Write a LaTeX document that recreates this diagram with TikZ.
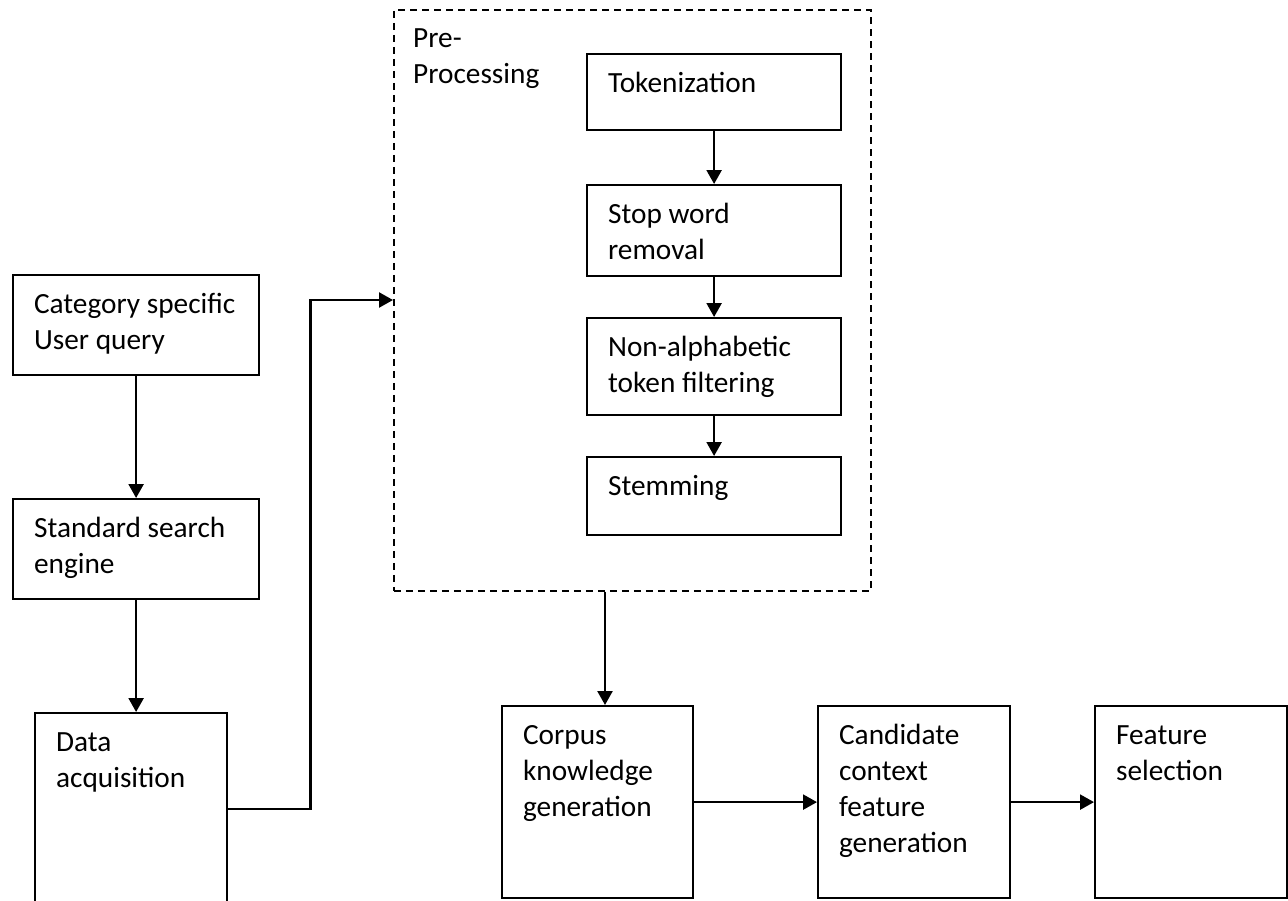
\documentclass[tikz,border=0pt]{standalone}
\usepackage{fontspec}
\setmainfont{Carlito}
\usetikzlibrary{arrows.meta,calc}

% A process stage: name, left, top, right, bottom, text (set at the top left)
\newcommand{\flowstage}[6]{%
  \node[stagebox] (#1) at (#2,#3)
    {\parbox[t][\dimexpr#5pt-#3pt\relax][t]{\dimexpr#4pt-#2pt\relax}%
      {\raggedright\leftskip=21pt\rule{0pt}{38.5pt}#6}};}

\begin{document}
\begin{tikzpicture}[x=1pt,y=-1pt,
  labelfont/.style={font=\fontsize{29.3pt}{36pt}\selectfont},
  stagebox/.style={draw, line width=2.2pt, inner sep=0pt, anchor=north west, labelfont},
  groupbox/.style={draw, dash pattern=on 7pt off 5pt, line width=1.7pt,
                   inner sep=0pt, anchor=north west},
  flow/.style={line width=2.4pt, -{Triangle[length=14pt,width=15pt]}}]
\useasboundingbox (0,0) rectangle (1288,900);

% pre-processing group
\node[groupbox, minimum width=477pt, minimum height=581pt] (pre) at (393,9) {};
\node[anchor=north west, inner sep=0pt, labelfont] (pretitle) at (413,9)
  {\parbox[t]{160pt}{\rule{0pt}{38.5pt}Pre-\\Processing}};

% left column
\flowstage{cat}{12}{274}{258}{374}{Category specific\\User query}
\flowstage{std}{12}{498}{258}{598}{Standard search\\engine}
\flowstage{data}{34}{712}{226}{904}{Data\\acquisition}

% pre-processing steps
\flowstage{tok}{586}{53}{840}{129}{Tokenization}
\flowstage{stop}{586}{184}{840}{275}{Stop word\\removal}
\flowstage{nonalpha}{586}{317}{840}{414}{Non-alphabetic\\token filtering}
\flowstage{stem}{586}{456}{840}{534}{Stemming}

% bottom row
\flowstage{corpus}{501}{705}{692}{897}{Corpus\\knowledge\\generation}
\flowstage{cand}{817}{705}{1009}{897}{Candidate\\context\\feature\\generation}
\flowstage{feat}{1094}{705}{1286}{897}{Feature\\selection}

% connectors
\coordinate (preIn) at ($(pre.north west)+(0,291)$);
\coordinate (preOut) at ($(pre.south west)+(212,0)$);

\draw[flow] (cat.south) -- (std.north);
\draw[flow] (std.south) -- (std.south |- data.north);
\draw[flow] (data.east) -| ($(data.east)!0.5!(preIn)$) |- (preIn);

\draw[flow] (tok.south) -- (stop.north);
\draw[flow] (stop.south) -- (nonalpha.north);
\draw[flow] (nonalpha.south) -- (stem.north);

\draw[flow] (preOut) -- (preOut |- corpus.north);
\draw[flow] (corpus.east) -- (cand.west);
\draw[flow] (cand.east) -- (feat.west);
\end{tikzpicture}
\end{document}
